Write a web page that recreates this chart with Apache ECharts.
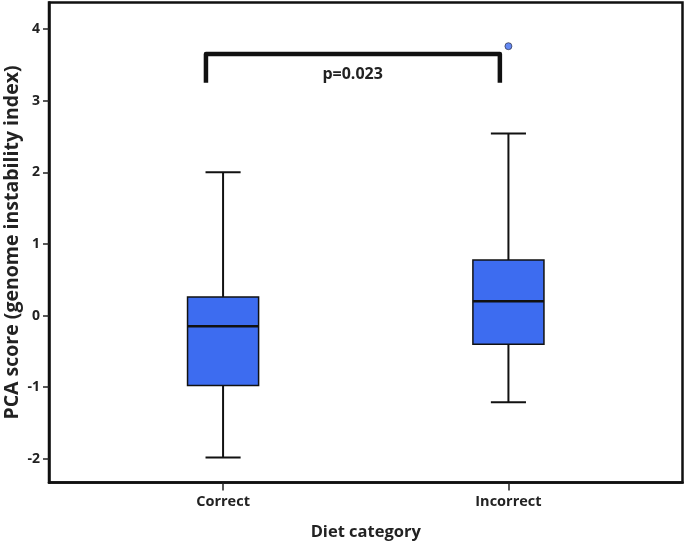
<!DOCTYPE html>
<html><head><meta charset="utf-8">
<script src="https://cdn.jsdelivr.net/npm/echarts@6/dist/echarts.min.js"></script>
<style>html,body{margin:0;padding:0;background:#fff}#c{width:685px;height:542px}</style>
</head><body><div id="c"></div>
<script>
// ---- data ----
const categories = ['Correct', 'Incorrect'];
const positions = [1, 2];
const whiskerLow = [-1.98, -1.21];
const q1 = [-0.975, -0.40];
const median = [-0.15, 0.20];
const q3 = [0.26, 0.775];
const whiskerHigh = [2.0, 2.54];
const outliers = [[2, 3.76]];
const yTicks = [-2, -1, 0, 1, 2, 3, 4];
const bracketX = [0.94, 1.97];
const bracketY = [3.25, 3.65];
const pText = 'p=0.023';
const pPos = [1.454, 3.36];

// ---- styles ----
const FONT = 'Open Sans';
const BOX_W = 0.249, CAP_W = 0.123;
const BLUE = '#3d6cf0';

const boxRows = positions.map((p, i) => [p, whiskerLow[i], q1[i], median[i], q3[i], whiskerHigh[i]]);

const chart = echarts.init(document.getElementById('c'), null, {renderer: 'canvas'});
chart.setOption({
  animation: false,
  backgroundColor: '#fff',
  grid: {left: 49, right: 2.5, top: 2.5, bottom: 59.5, outerBoundsMode: 'none', containLabel: false,
    show: true, borderColor: '#111', borderWidth: 2.5, backgroundColor: 'transparent'},
  xAxis: {
    type: 'value', min: 0.39, max: 2.61,
    name: 'Diet category', nameLocation: 'middle', nameGap: 41, nameMoveOverlap: false,
    nameTextStyle: {fontFamily: FONT, fontWeight: 'bold', fontSize: 16.5, color: '#222'},
    axisLine: {show: true, onZero: false, lineStyle: {color: '#111', width: 2.5}},
    axisTick: {show: true, customValues: positions, length: 8, lineStyle: {color: '#222', width: 1.5}},
    axisLabel: {customValues: positions, margin: 12, fontFamily: FONT, fontWeight: 'bold', fontSize: 14.5, color: '#222',
      formatter: v => { const i = positions.indexOf(v); return i >= 0 ? categories[i] : ''; }},
    splitLine: {show: false}
  },
  yAxis: {
    type: 'value', min: -2.33, max: 4.37,
    name: 'PCA score (genome instability index)', nameLocation: 'middle', nameGap: 27, nameMoveOverlap: false,
    nameTextStyle: {fontFamily: FONT, fontWeight: 'bold', fontSize: 19.5, color: '#222'},
    axisLine: {show: true, onZero: false, lineStyle: {color: '#111', width: 2.5}},
    axisTick: {show: true, customValues: yTicks, length: 6, lineStyle: {color: '#222', width: 1.5}},
    axisLabel: {customValues: yTicks, margin: 9, fontFamily: FONT, fontWeight: 'bold', fontSize: 14, color: '#222'},
    splitLine: {show: false}
  },
  series: [
    {
      type: 'custom',
      data: boxRows,
      renderItem: (params, api) => {
        const x = api.value(0);
        const bw = api.size([BOX_W, 0])[0];
        const cw = api.size([CAP_W, 0])[0];
        const pLo = api.coord([x, api.value(1)]);
        const pQ1 = api.coord([x, api.value(2)]);
        const pMed = api.coord([x, api.value(3)]);
        const pQ3 = api.coord([x, api.value(4)]);
        const pHi = api.coord([x, api.value(5)]);
        const cx = pMed[0];
        const ls = {stroke: '#111', lineWidth: 2};
        return {type: 'group', children: [
          {type: 'line', shape: {x1: cx, y1: pHi[1], x2: cx, y2: pQ3[1]}, style: ls},
          {type: 'line', shape: {x1: cx, y1: pQ1[1], x2: cx, y2: pLo[1]}, style: ls},
          {type: 'line', shape: {x1: cx - cw / 2, y1: pHi[1], x2: cx + cw / 2, y2: pHi[1]}, style: ls},
          {type: 'line', shape: {x1: cx - cw / 2, y1: pLo[1], x2: cx + cw / 2, y2: pLo[1]}, style: ls},
          {type: 'rect', shape: {x: cx - bw / 2, y: pQ3[1], width: bw, height: pQ1[1] - pQ3[1]},
            style: {fill: BLUE, stroke: '#111', lineWidth: 1.5}},
          {type: 'line', shape: {x1: cx - bw / 2, y1: pMed[1], x2: cx + bw / 2, y2: pMed[1]}, style: {stroke: '#111', lineWidth: 2.5}}
        ]};
      },
      z: 3
    },
    {
      type: 'scatter', data: outliers, symbol: 'circle', symbolSize: 7,
      itemStyle: {color: BLUE, borderColor: '#223', borderWidth: 0.8}, z: 4
    },
    {
      type: 'custom',
      data: [[bracketX[0], bracketX[1], bracketY[0], bracketY[1]]],
      renderItem: (params, api) => {
        const a = api.coord([api.value(0), api.value(2)]);
        const b = api.coord([api.value(0), api.value(3)]);
        const c = api.coord([api.value(1), api.value(3)]);
        const d = api.coord([api.value(1), api.value(2)]);
        return {type: 'polyline', shape: {points: [a, b, c, d]},
          style: {stroke: '#111', lineWidth: 4.5, fill: null, lineJoin: 'round', lineCap: 'butt'}};
      },
      z: 5
    },
    {
      type: 'custom',
      data: [pPos],
      renderItem: (params, api) => {
        const p = api.coord([api.value(0), api.value(1)]);
        return {type: 'text', x: p[0], y: p[1],
          style: {text: pText, fontFamily: FONT, fontWeight: 'bold', fontSize: 16, fill: '#222', align: 'center', verticalAlign: 'middle'}};
      },
      z: 5
    }
  ]
});
</script>
</body></html>
